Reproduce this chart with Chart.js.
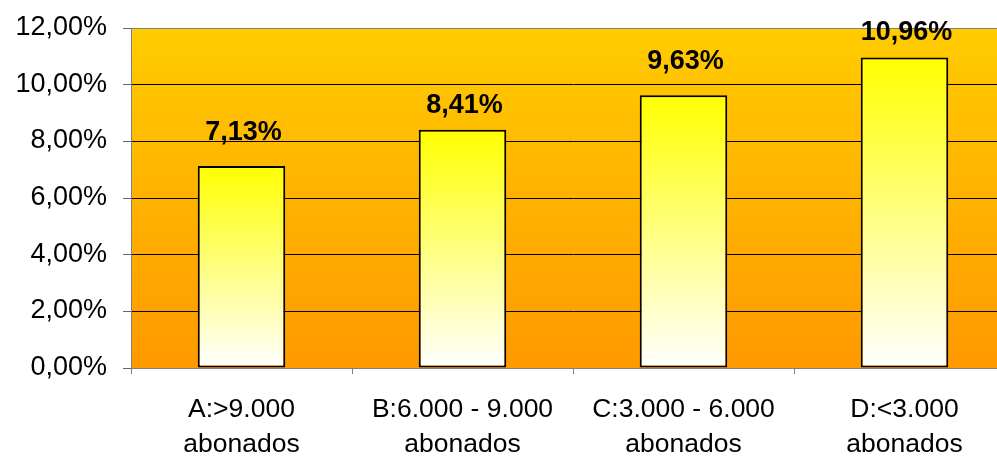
<!DOCTYPE html>
<html>
<head>
<meta charset="utf-8">
<script src="https://cdn.jsdelivr.net/npm/chart.js@4/dist/chart.umd.min.js"></script>
<style>
  html, body { margin: 0; padding: 0; background: #ffffff; overflow: hidden; }
  canvas { display: block; }
</style>
</head>
<body>
<canvas id="chart" width="1015" height="456"></canvas>
<script>
// Share of subscribers by municipality size band
const categories = [
  ['A:>9.000', 'abonados'],
  ['B:6.000 - 9.000', 'abonados'],
  ['C:3.000 - 6.000', 'abonados'],
  ['D:<3.000', 'abonados']
];
const values = [7.13, 8.41, 9.63, 10.96];
const yTicks = [0, 2, 4, 6, 8, 10, 12];

const FONT = "'Liberation Sans', Arial, sans-serif";

function pct(v) {
  return v.toFixed(2).replace('.', ',') + '%';
}

// Orange-to-yellow fill behind the plot area
const plotBackground = {
  id: 'plotBackground',
  beforeDraw(chart) {
    const { ctx, chartArea: a } = chart;
    const g = ctx.createLinearGradient(0, a.top, 0, a.bottom);
    g.addColorStop(0, '#FFCC00');
    g.addColorStop(1, '#FF9900');
    ctx.save();
    ctx.fillStyle = g;
    ctx.fillRect(a.left, a.top, a.right - a.left, a.bottom - a.top);
    ctx.restore();
  }
};

// Bold value labels above each bar
const valueLabels = {
  id: 'valueLabels',
  afterDatasetsDraw(chart, args, opts) {
    const { ctx } = chart;
    const meta = chart.getDatasetMeta(0);
    ctx.save();
    ctx.font = 'bold 27px ' + FONT;
    ctx.fillStyle = '#000000';
    ctx.textAlign = 'center';
    ctx.textBaseline = 'alphabetic';
    meta.data.forEach((bar, i) => {
      const gap = opts.gaps[i % opts.gaps.length];
      ctx.fillText(pct(values[i]), bar.x + 2, bar.y - gap);
    });
    ctx.restore();
  }
};

// Each bar fades from yellow at its top to white at the baseline
function barFill(context) {
  const chart = context.chart;
  if (!chart.chartArea) return '#FFFF66';
  const y = chart.scales.y;
  const top = y.getPixelForValue(context.raw);
  const base = y.getPixelForValue(0);
  const g = chart.ctx.createLinearGradient(0, top, 0, base);
  g.addColorStop(0, '#FFFF00');
  g.addColorStop(1, '#FFFFFF');
  return g;
}

new Chart(document.getElementById('chart'), {
  type: 'bar',
  data: {
    labels: categories,
    datasets: [{
      data: values,
      backgroundColor: barFill,
      borderColor: '#000000',
      borderWidth: 2,
      borderSkipped: false,
      barPercentage: 0.396,
      categoryPercentage: 1.0
    }]
  },
  plugins: [plotBackground, valueLabels],
  options: {
    responsive: false,
    animation: false,
    devicePixelRatio: 1,
    layout: { padding: { top: 28, left: 0, right: 0, bottom: 0 } },
    plugins: {
      legend: { display: false },
      tooltip: { enabled: false },
      valueLabels: { gaps: [26, 17, 26, 17] }
    },
    scales: {
      x: {
        afterFit(scale) { scale.height = 88; },
        grid: {
          offset: true,
          drawOnChartArea: false,
          drawTicks: true,
          tickLength: 6,
          color: '#808080'
        },
        border: { color: '#808080', width: 1 },
        ticks: {
          color: '#000000',
          padding: 18,
          maxRotation: 0,
          autoSkip: false,
          font: { family: FONT, size: 26.5, lineHeight: 1.33 }
        }
      },
      y: {
        min: 0,
        max: 12,
        afterFit(scale) {
          scale.width = 131;
          scale.paddingTop = 0;
          scale.paddingBottom = 0;
        },
        afterBuildTicks(scale) {
          scale.ticks = yTicks.map(v => ({ value: v }));
        },
        grid: {
          color(ctx) {
            const v = ctx.tick ? ctx.tick.value : null;
            return (v === 0 || v === 12) ? '#808080' : '#000000';
          },
          tickColor: '#666666',
          tickLength: 8,
          lineWidth: 1
        },
        border: { color: '#808080', width: 1 },
        ticks: {
          color: '#000000',
          padding: 16,
          labelOffset: -0.5,
          font: { family: FONT, size: 27 },
          callback(v) { return pct(v); }
        }
      }
    }
  }
});
</script>
</body>
</html>
